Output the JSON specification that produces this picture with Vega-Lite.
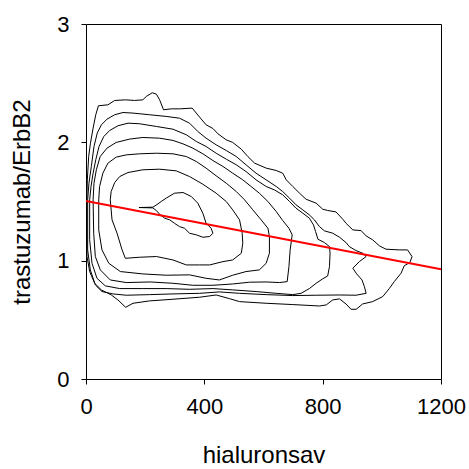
{
  "$schema": "https://vega.github.io/schema/vega-lite/v6.json",
  "width": 355,
  "height": 355,
  "autosize": {"type": "none"},
  "padding": {"left": 86, "top": 24, "right": 28, "bottom": 90},
  "background": "white",
  "config": {
    "view": {"stroke": "#000", "strokeWidth": 1},
    "axis": {
      "grid": false,
      "domain": false,
      "tickColor": "#000",
      "tickSize": 5,
      "labelFont": "Liberation Sans",
      "labelFontSize": 22,
      "labelColor": "#000",
      "labelFlush": false,
      "labelOverlap": false,
      "labelBound": false,
      "format": "d",
      "titleFont": "Liberation Sans",
      "titleFontSize": 24,
      "titleFontWeight": "normal",
      "titleColor": "#000"
    }
  },
  "datasets": {
    "contours": [
      {"c":1,"i":1,"x":3.4,"y":1.035},{"c":1,"i":2,"x":12.4,"y":0.908},{"c":1,"i":3,"x":29.3,"y":0.809},{"c":1,"i":4,"x":51.8,"y":0.753},{"c":1,"i":5,"x":85.6,"y":0.71},{"c":1,"i":6,"x":108,"y":0.668},{"c":1,"i":7,"x":134,"y":0.606},{"c":1,"i":8,"x":159,"y":0.64},{"c":1,"i":9,"x":215,"y":0.66},{"c":1,"i":10,"x":294,"y":0.674},{"c":1,"i":11,"x":384,"y":0.691},{"c":1,"i":12,"x":440,"y":0.71},{"c":1,"i":13,"x":485,"y":0.679},{"c":1,"i":14,"x":519,"y":0.654},{"c":1,"i":15,"x":609,"y":0.64},{"c":1,"i":16,"x":699,"y":0.629},{"c":1,"i":17,"x":789,"y":0.617},{"c":1,"i":18,"x":812,"y":0.626},{"c":1,"i":19,"x":834,"y":0.668},{"c":1,"i":20,"x":857,"y":0.677},{"c":1,"i":21,"x":879,"y":0.634},{"c":1,"i":22,"x":896,"y":0.589},{"c":1,"i":23,"x":913,"y":0.589},{"c":1,"i":24,"x":935,"y":0.634},{"c":1,"i":25,"x":969,"y":0.654},{"c":1,"i":26,"x":1003,"y":0.696},{"c":1,"i":27,"x":1026,"y":0.767},{"c":1,"i":28,"x":1042,"y":0.823},{"c":1,"i":29,"x":1065,"y":0.894},{"c":1,"i":30,"x":1076,"y":0.958},{"c":1,"i":31,"x":1095,"y":0.984},{"c":1,"i":32,"x":1102,"y":1.035},{"c":1,"i":33,"x":1087,"y":1.091},{"c":1,"i":34,"x":1059,"y":1.091},{"c":1,"i":35,"x":1014,"y":1.097},{"c":1,"i":36,"x":992,"y":1.125},{"c":1,"i":37,"x":969,"y":1.176},{"c":1,"i":38,"x":947,"y":1.209},{"c":1,"i":39,"x":930,"y":1.254},{"c":1,"i":40,"x":902,"y":1.26},{"c":1,"i":41,"x":879,"y":1.316},{"c":1,"i":42,"x":868,"y":1.35},{"c":1,"i":43,"x":845,"y":1.412},{"c":1,"i":44,"x":817,"y":1.424},{"c":1,"i":45,"x":800,"y":1.435},{"c":1,"i":46,"x":778,"y":1.486},{"c":1,"i":47,"x":744,"y":1.519},{"c":1,"i":48,"x":722,"y":1.57},{"c":1,"i":49,"x":699,"y":1.627},{"c":1,"i":50,"x":677,"y":1.683},{"c":1,"i":51,"x":665,"y":1.739},{"c":1,"i":52,"x":643,"y":1.762},{"c":1,"i":53,"x":609,"y":1.782},{"c":1,"i":54,"x":570,"y":1.824},{"c":1,"i":55,"x":547,"y":1.88},{"c":1,"i":56,"x":525,"y":1.942},{"c":1,"i":57,"x":496,"y":1.999},{"c":1,"i":58,"x":474,"y":2.021},{"c":1,"i":59,"x":446,"y":2.072},{"c":1,"i":60,"x":429,"y":2.117},{"c":1,"i":61,"x":406,"y":2.148},{"c":1,"i":62,"x":384,"y":2.213},{"c":1,"i":63,"x":359,"y":2.289},{"c":1,"i":64,"x":316,"y":2.283},{"c":1,"i":65,"x":288,"y":2.283},{"c":1,"i":66,"x":262,"y":2.275},{"c":1,"i":67,"x":249,"y":2.359},{"c":1,"i":68,"x":238,"y":2.407},{"c":1,"i":69,"x":224,"y":2.419},{"c":1,"i":70,"x":204,"y":2.388},{"c":1,"i":71,"x":192,"y":2.359},{"c":1,"i":72,"x":164,"y":2.354},{"c":1,"i":73,"x":134,"y":2.359},{"c":1,"i":74,"x":97,"y":2.354},{"c":1,"i":75,"x":74,"y":2.317},{"c":1,"i":76,"x":42,"y":2.309},{"c":1,"i":77,"x":33,"y":2.233},{"c":1,"i":78,"x":24,"y":2.12},{"c":1,"i":79,"x":15,"y":1.993},{"c":1,"i":80,"x":9,"y":1.88},{"c":1,"i":81,"x":4.5,"y":1.683},{"c":1,"i":82,"x":2.3,"y":1.457},{"c":1,"i":83,"x":2.3,"y":1.232},{"c":1,"i":84,"x":3.4,"y":1.035},

      {"c":2,"i":1,"x":5.6,"y":1.514},{"c":2,"i":2,"x":5.6,"y":1.091},{"c":2,"i":3,"x":14.6,"y":0.922},{"c":2,"i":4,"x":31.5,"y":0.795},{"c":2,"i":5,"x":54,"y":0.739},{"c":2,"i":6,"x":91,"y":0.719},{"c":2,"i":7,"x":136,"y":0.708},{"c":2,"i":8,"x":215,"y":0.713},{"c":2,"i":9,"x":294,"y":0.719},{"c":2,"i":10,"x":384,"y":0.724},{"c":2,"i":11,"x":451,"y":0.736},{"c":2,"i":12,"x":519,"y":0.724},{"c":2,"i":13,"x":609,"y":0.713},{"c":2,"i":14,"x":699,"y":0.705},{"c":2,"i":15,"x":778,"y":0.708},{"c":2,"i":16,"x":857,"y":0.71},{"c":2,"i":17,"x":913,"y":0.708},{"c":2,"i":18,"x":947,"y":0.724},{"c":2,"i":19,"x":941,"y":0.781},{"c":2,"i":20,"x":933,"y":0.837},{"c":2,"i":21,"x":915,"y":0.888},{"c":2,"i":22,"x":902,"y":0.936},{"c":2,"i":23,"x":924,"y":0.992},{"c":2,"i":24,"x":947,"y":1.035},{"c":2,"i":25,"x":935,"y":1.063},{"c":2,"i":26,"x":913,"y":1.085},{"c":2,"i":27,"x":890,"y":1.119},{"c":2,"i":28,"x":879,"y":1.153},{"c":2,"i":29,"x":857,"y":1.198},{"c":2,"i":30,"x":834,"y":1.232},{"c":2,"i":31,"x":806,"y":1.252},{"c":2,"i":32,"x":789,"y":1.288},{"c":2,"i":33,"x":772,"y":1.345},{"c":2,"i":34,"x":755,"y":1.387},{"c":2,"i":35,"x":733,"y":1.429},{"c":2,"i":36,"x":710,"y":1.472},{"c":2,"i":37,"x":688,"y":1.528},{"c":2,"i":38,"x":665,"y":1.584},{"c":2,"i":39,"x":643,"y":1.627},{"c":2,"i":40,"x":609,"y":1.683},{"c":2,"i":41,"x":575,"y":1.739},{"c":2,"i":42,"x":541,"y":1.81},{"c":2,"i":43,"x":508,"y":1.88},{"c":2,"i":44,"x":474,"y":1.931},{"c":2,"i":45,"x":440,"y":1.979},{"c":2,"i":46,"x":406,"y":2.035},{"c":2,"i":47,"x":378,"y":2.092},{"c":2,"i":48,"x":350,"y":2.162},{"c":2,"i":49,"x":316,"y":2.204},{"c":2,"i":50,"x":271,"y":2.219},{"c":2,"i":51,"x":215,"y":2.233},{"c":2,"i":52,"x":159,"y":2.247},{"c":2,"i":53,"x":125,"y":2.252},{"c":2,"i":54,"x":97,"y":2.233},{"c":2,"i":55,"x":71,"y":2.196},{"c":2,"i":56,"x":52,"y":2.148},{"c":2,"i":57,"x":38,"y":2.078},{"c":2,"i":58,"x":27,"y":1.965},{"c":2,"i":59,"x":18,"y":1.796},{"c":2,"i":60,"x":10,"y":1.655},{"c":2,"i":61,"x":5.6,"y":1.514},

      {"c":3,"i":1,"x":12.4,"y":1.514},{"c":3,"i":2,"x":12.4,"y":1.176},{"c":3,"i":3,"x":20.3,"y":0.978},{"c":3,"i":4,"x":37.1,"y":0.851},{"c":3,"i":5,"x":65.3,"y":0.787},{"c":3,"i":6,"x":114,"y":0.764},{"c":3,"i":7,"x":192,"y":0.764},{"c":3,"i":8,"x":271,"y":0.764},{"c":3,"i":9,"x":350,"y":0.758},{"c":3,"i":10,"x":429,"y":0.764},{"c":3,"i":11,"x":496,"y":0.753},{"c":3,"i":12,"x":575,"y":0.739},{"c":3,"i":13,"x":643,"y":0.724},{"c":3,"i":14,"x":699,"y":0.713},{"c":3,"i":15,"x":727,"y":0.724},{"c":3,"i":16,"x":755,"y":0.764},{"c":3,"i":17,"x":778,"y":0.809},{"c":3,"i":18,"x":798,"y":0.843},{"c":3,"i":19,"x":817,"y":0.871},{"c":3,"i":20,"x":823,"y":0.95},{"c":3,"i":21,"x":825,"y":1.063},{"c":3,"i":22,"x":823,"y":1.119},{"c":3,"i":23,"x":806,"y":1.153},{"c":3,"i":24,"x":784,"y":1.181},{"c":3,"i":25,"x":776,"y":1.246},{"c":3,"i":26,"x":769,"y":1.302},{"c":3,"i":27,"x":755,"y":1.359},{"c":3,"i":28,"x":733,"y":1.401},{"c":3,"i":29,"x":710,"y":1.443},{"c":3,"i":30,"x":688,"y":1.5},{"c":3,"i":31,"x":665,"y":1.556},{"c":3,"i":32,"x":637,"y":1.598},{"c":3,"i":33,"x":609,"y":1.627},{"c":3,"i":34,"x":575,"y":1.683},{"c":3,"i":35,"x":541,"y":1.753},{"c":3,"i":36,"x":508,"y":1.81},{"c":3,"i":37,"x":474,"y":1.858},{"c":3,"i":38,"x":440,"y":1.908},{"c":3,"i":39,"x":406,"y":1.965},{"c":3,"i":40,"x":373,"y":2.007},{"c":3,"i":41,"x":339,"y":2.064},{"c":3,"i":42,"x":294,"y":2.111},{"c":3,"i":43,"x":238,"y":2.134},{"c":3,"i":44,"x":181,"y":2.157},{"c":3,"i":45,"x":142,"y":2.162},{"c":3,"i":46,"x":108,"y":2.14},{"c":3,"i":47,"x":80,"y":2.1},{"c":3,"i":48,"x":60,"y":2.049},{"c":3,"i":49,"x":44,"y":1.965},{"c":3,"i":50,"x":33,"y":1.852},{"c":3,"i":51,"x":24,"y":1.739},{"c":3,"i":52,"x":17,"y":1.627},{"c":3,"i":53,"x":12.4,"y":1.514},

      {"c":4,"i":1,"x":24,"y":1.514},{"c":4,"i":2,"x":26,"y":1.232},{"c":4,"i":3,"x":31.5,"y":1.035},{"c":4,"i":4,"x":48.4,"y":0.922},{"c":4,"i":5,"x":82,"y":0.837},{"c":4,"i":6,"x":136,"y":0.815},{"c":4,"i":7,"x":217,"y":0.82},{"c":4,"i":8,"x":294,"y":0.809},{"c":4,"i":9,"x":361,"y":0.792},{"c":4,"i":10,"x":429,"y":0.792},{"c":4,"i":11,"x":496,"y":0.803},{"c":4,"i":12,"x":553,"y":0.818},{"c":4,"i":13,"x":609,"y":0.82},{"c":4,"i":14,"x":654,"y":0.815},{"c":4,"i":15,"x":680,"y":0.823},{"c":4,"i":16,"x":686,"y":0.95},{"c":4,"i":17,"x":690,"y":1.091},{"c":4,"i":18,"x":697,"y":1.218},{"c":4,"i":19,"x":686,"y":1.274},{"c":4,"i":20,"x":665,"y":1.339},{"c":4,"i":21,"x":643,"y":1.415},{"c":4,"i":22,"x":615,"y":1.5},{"c":4,"i":23,"x":586,"y":1.57},{"c":4,"i":24,"x":558,"y":1.627},{"c":4,"i":25,"x":530,"y":1.683},{"c":4,"i":26,"x":496,"y":1.739},{"c":4,"i":27,"x":463,"y":1.796},{"c":4,"i":28,"x":429,"y":1.846},{"c":4,"i":29,"x":395,"y":1.903},{"c":4,"i":30,"x":361,"y":1.951},{"c":4,"i":31,"x":328,"y":1.987},{"c":4,"i":32,"x":294,"y":2.016},{"c":4,"i":33,"x":249,"y":2.035},{"c":4,"i":34,"x":192,"y":2.041},{"c":4,"i":35,"x":147,"y":2.027},{"c":4,"i":36,"x":102,"y":1.999},{"c":4,"i":37,"x":71,"y":1.951},{"c":4,"i":38,"x":48,"y":1.88},{"c":4,"i":39,"x":35,"y":1.768},{"c":4,"i":40,"x":27,"y":1.655},{"c":4,"i":41,"x":24,"y":1.514},

      {"c":5,"i":1,"x":43,"y":1.514},{"c":5,"i":2,"x":43,"y":1.26},{"c":5,"i":3,"x":54,"y":1.091},{"c":5,"i":4,"x":77,"y":0.978},{"c":5,"i":5,"x":116,"y":0.908},{"c":5,"i":6,"x":192,"y":0.888},{"c":5,"i":7,"x":271,"y":0.877},{"c":5,"i":8,"x":350,"y":0.88},{"c":5,"i":9,"x":406,"y":0.851},{"c":5,"i":10,"x":451,"y":0.837},{"c":5,"i":11,"x":496,"y":0.877},{"c":5,"i":12,"x":541,"y":0.908},{"c":5,"i":13,"x":586,"y":0.922},{"c":5,"i":14,"x":609,"y":0.978},{"c":5,"i":15,"x":620,"y":1.063},{"c":5,"i":16,"x":620,"y":1.204},{"c":5,"i":17,"x":615,"y":1.274},{"c":5,"i":18,"x":592,"y":1.345},{"c":5,"i":19,"x":564,"y":1.429},{"c":5,"i":20,"x":536,"y":1.514},{"c":5,"i":21,"x":508,"y":1.584},{"c":5,"i":22,"x":474,"y":1.655},{"c":5,"i":23,"x":440,"y":1.717},{"c":5,"i":24,"x":406,"y":1.782},{"c":5,"i":25,"x":373,"y":1.838},{"c":5,"i":26,"x":339,"y":1.88},{"c":5,"i":27,"x":294,"y":1.903},{"c":5,"i":28,"x":238,"y":1.908},{"c":5,"i":29,"x":181,"y":1.903},{"c":5,"i":30,"x":136,"y":1.894},{"c":5,"i":31,"x":102,"y":1.875},{"c":5,"i":32,"x":74,"y":1.824},{"c":5,"i":33,"x":57,"y":1.739},{"c":5,"i":34,"x":46,"y":1.627},{"c":5,"i":35,"x":43,"y":1.514},

      {"c":6,"i":1,"x":82,"y":1.514},{"c":6,"i":2,"x":88,"y":1.345},{"c":6,"i":3,"x":105,"y":1.232},{"c":6,"i":4,"x":122,"y":1.091},{"c":6,"i":5,"x":133,"y":1.02},{"c":6,"i":6,"x":181,"y":1.029},{"c":6,"i":7,"x":238,"y":1.035},{"c":6,"i":8,"x":294,"y":1.006},{"c":6,"i":9,"x":339,"y":0.964},{"c":6,"i":10,"x":384,"y":0.964},{"c":6,"i":11,"x":418,"y":0.964},{"c":6,"i":12,"x":463,"y":0.992},{"c":6,"i":13,"x":496,"y":1.006},{"c":6,"i":14,"x":525,"y":1.063},{"c":6,"i":15,"x":530,"y":1.147},{"c":6,"i":16,"x":528,"y":1.232},{"c":6,"i":17,"x":519,"y":1.345},{"c":6,"i":18,"x":496,"y":1.429},{"c":6,"i":19,"x":474,"y":1.5},{"c":6,"i":20,"x":440,"y":1.57},{"c":6,"i":21,"x":395,"y":1.646},{"c":6,"i":22,"x":350,"y":1.711},{"c":6,"i":23,"x":305,"y":1.759},{"c":6,"i":24,"x":249,"y":1.773},{"c":6,"i":25,"x":192,"y":1.768},{"c":6,"i":26,"x":142,"y":1.745},{"c":6,"i":27,"x":114,"y":1.711},{"c":6,"i":28,"x":97,"y":1.66},{"c":6,"i":29,"x":85,"y":1.584},{"c":6,"i":30,"x":82,"y":1.514},

      {"c":7,"i":1,"x":179,"y":1.449},{"c":7,"i":2,"x":226,"y":1.452},{"c":7,"i":3,"x":240,"y":1.474},{"c":7,"i":4,"x":254,"y":1.5},{"c":7,"i":5,"x":271,"y":1.528},{"c":7,"i":6,"x":299,"y":1.57},{"c":7,"i":7,"x":328,"y":1.576},{"c":7,"i":8,"x":356,"y":1.542},{"c":7,"i":9,"x":378,"y":1.486},{"c":7,"i":10,"x":395,"y":1.401},{"c":7,"i":11,"x":406,"y":1.316},{"c":7,"i":12,"x":423,"y":1.274},{"c":7,"i":13,"x":429,"y":1.232},{"c":7,"i":14,"x":418,"y":1.204},{"c":7,"i":15,"x":395,"y":1.198},{"c":7,"i":16,"x":373,"y":1.218},{"c":7,"i":17,"x":350,"y":1.232},{"c":7,"i":18,"x":333,"y":1.274},{"c":7,"i":19,"x":316,"y":1.288},{"c":7,"i":20,"x":299,"y":1.316},{"c":7,"i":21,"x":283,"y":1.345},{"c":7,"i":22,"x":266,"y":1.359},{"c":7,"i":23,"x":251,"y":1.387},{"c":7,"i":24,"x":238,"y":1.423},{"c":7,"i":25,"x":226,"y":1.446},{"c":7,"i":26,"x":179,"y":1.449}
    ],
    "fit": [
      {"x": 0, "y": 1.505},
      {"x": 1200, "y": 0.928}
    ]
  },
  "layer": [
    {
      "data": {"name": "contours"},
      "mark": {"type": "line", "color": "#000", "strokeWidth": 1, "strokeJoin": "round"},
      "encoding": {
        "x": {
          "field": "x", "type": "quantitative",
          "scale": {"domain": [0, 1200], "nice": false, "zero": false},
          "axis": {"values": [0, 400, 800, 1200], "title": "hialuronsav", "labelPadding": 12, "titlePadding": 26}
        },
        "y": {
          "field": "y", "type": "quantitative",
          "scale": {"domain": [0, 3], "nice": false, "zero": false},
          "axis": {"values": [0, 1, 2, 3], "title": "trastuzumab/ErbB2", "labelPadding": 12, "titlePadding": 22}
        },
        "detail": {"field": "c", "type": "nominal"},
        "order": {"field": "i", "type": "quantitative"}
      }
    },
    {
      "data": {"name": "fit"},
      "mark": {"type": "line", "color": "#ff0000", "strokeWidth": 2},
      "encoding": {
        "x": {"field": "x", "type": "quantitative"},
        "y": {"field": "y", "type": "quantitative"}
      }
    }
  ]
}
